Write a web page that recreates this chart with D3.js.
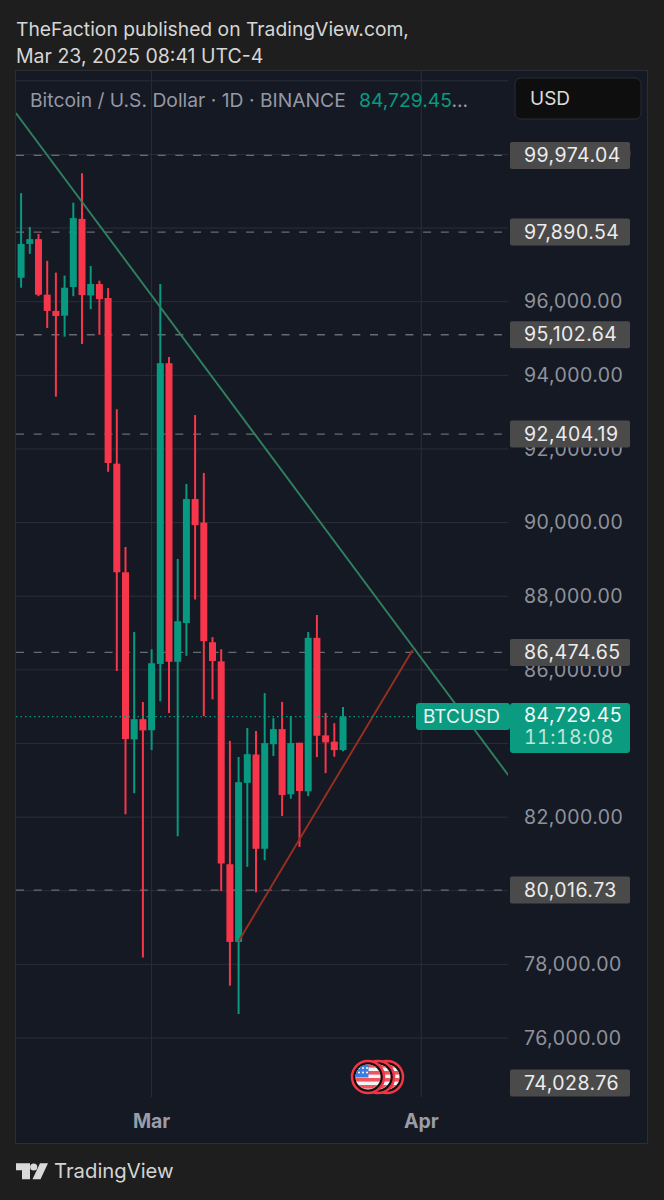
<!DOCTYPE html>
<html>
<head>
<meta charset="utf-8">
<title>BTCUSD daily chart</title>
<script src="https://d3js.org/d3.v7.min.js"></script>
<style>
html,body{margin:0;padding:0;background:#1e1e1e;}
svg{display:block;font-family:Inter,"Noto Sans",sans-serif;}
</style>
</head>
<body>
<div id="chart"></div>
<script>
// daily candles, first one is Feb 14 2025, day 15 is Mar 1
var opens  = [96650,97570,97700,96190,95750,95620,96400,98250,96170,96480,96100,91600,88650,84110,84660,84360,86160,94330,86220,87270,90640,90000,86750,86230,80720,78610,82930,83700,81140,83980,84390,82620,84020,82700,86870,84220,84050,83820];
var highs  = [98950,98030,97840,97110,96790,96710,98690,99490,96970,96570,96370,93080,89340,87030,85130,86560,96480,94500,89010,91050,92920,91350,86890,86560,84070,83630,84420,84340,85370,84690,85130,84750,84020,87030,87490,84830,84550,84990];
var lows   = [96380,97300,96150,95285,93420,95050,96150,94850,95800,95100,91380,85970,82080,82650,78190,83820,85150,84825,81480,86380,87910,84740,85200,79990,77420,76650,80650,79960,80830,83660,82030,82500,81190,82570,83630,83195,83640,83790];
var closes = [97570,97700,96190,95750,95610,96380,98270,96180,96480,96070,91620,88650,84120,84660,84355,86180,94330,86220,87320,90640,89930,86780,86240,80740,78610,82950,83710,81140,84010,84390,82600,84010,82710,86870,84210,84030,83820,84729.45];

var gridPrices = [76000,78000,80000,82000,84000,86000,88000,90000,92000,94000,96000,98000,100000,102000];
// the others sit fully behind the pinned labels
var priceLabels = [76000,78000,82000,86000,88000,90000,92000,94000,96000,100000];
var levels = [99974.04,97890.54,95102.64,92404.19,86474.65,80016.73];
var monthDays = [15,46];
var monthNames = ["Mar","Apr"];
var lastPrice = 84729.45;
var greenLine = [[-0.6,101127],[56,83140]];
var redLine = [[25,78630],[45,86537]];

var w = 664, h = 1200;
var paneL = 16, paneR = 508, paneT = 71, paneB = 1097, frameR = 647, frameB = 1143;
var bodyW = 7, wickW = 2;
var up = "#089981", down = "#f7364b", grid = "#2a2e39";
var numSize = 19.5, numSpace = 0.45;

// calibrated on the gridlines: 96,000 at 301.7 and 76,000 at 1038
var y = d3.scaleLinear().domain([96000,76000]).range([301.7,1038]);
var x = d3.scaleLinear().domain([15,46]).range([151.6,421.3]);

var svg = d3.select("#chart").append("svg").attr("width",w).attr("height",h);

svg.append("rect").attr("width",w).attr("height",h).attr("fill","#1e1e1e");
svg.append("rect")
   .attr("x",paneL-0.5).attr("y",paneT-0.5)
   .attr("width",frameR-paneL+1).attr("height",frameB-paneT+1)
   .attr("fill","#151924").attr("stroke","#2c2e33");

svg.append("clipPath").attr("id","pane").append("rect")
   .attr("x",paneL).attr("y",paneT).attr("width",paneR-paneL).attr("height",paneB-paneT);

var pane = svg.append("g").attr("clip-path","url(#pane)");

// grid
pane.selectAll("line.h").data(gridPrices).enter().append("line").attr("class","h")
    .attr("x1",paneL).attr("x2",paneR)
    .attr("y1",function(d){return y(d);}).attr("y2",function(d){return y(d);})
    .attr("stroke",grid).attr("stroke-width",1);
pane.selectAll("line.v").data(monthDays).enter().append("line").attr("class","v")
    .attr("x1",function(d){return x(d);}).attr("x2",function(d){return x(d);})
    .attr("y1",paneT).attr("y2",paneB)
    .attr("stroke",grid).attr("stroke-width",1);

// dashed levels
pane.selectAll("line.level").data(levels).enter().append("line").attr("class","level")
    .attr("x1",paneL).attr("x2",paneR)
    .attr("y1",function(d){return y(d);}).attr("y2",function(d){return y(d);})
    .attr("stroke","#6a6b70").attr("stroke-width",1.3).attr("stroke-dasharray","8 9.7");

// candles
var days = d3.range(opens.length);
var col = function(i){ return closes[i] >= opens[i] ? up : down; };
pane.selectAll("line.wick").data(days).enter().append("line").attr("class","wick")
    .attr("x1",function(i){return x(i);}).attr("x2",function(i){return x(i);})
    .attr("y1",function(i){return y(highs[i]);}).attr("y2",function(i){return y(lows[i]);})
    .attr("stroke",col).attr("stroke-width",wickW);
pane.selectAll("rect.body").data(days).enter().append("rect").attr("class","body")
    .attr("x",function(i){return x(i)-bodyW/2;})
    .attr("width",bodyW)
    .attr("y",function(i){return y(Math.max(opens[i],closes[i]));})
    .attr("height",function(i){return Math.abs(y(opens[i])-y(closes[i]));})
    .attr("fill",col);

// trend lines
var line = d3.line().x(function(d){return x(d[0]);}).y(function(d){return y(d[1]);});
pane.append("path").attr("d",line(greenLine)).attr("fill","none").attr("stroke","#2f8060").attr("stroke-width",1.9);
pane.append("path").attr("d",line(redLine)).attr("fill","none").attr("stroke","#982f1f").attr("stroke-width",1.9);

// last price dots
pane.append("line")
    .attr("x1",paneL).attr("x2",paneR)
    .attr("y1",y(lastPrice)).attr("y2",y(lastPrice))
    .attr("stroke",up).attr("stroke-width",1.3).attr("stroke-dasharray","1.5 3");

// price axis
var axis = d3.axisRight(y).tickValues(priceLabels).tickSize(0).tickPadding(0).tickFormat(d3.format(",.2f"));
var gAxis = svg.append("g").attr("transform","translate(524,0)").call(axis);
gAxis.select(".domain").remove();
gAxis.selectAll("text").attr("fill","#8f929b").attr("font-size",numSize).attr("letter-spacing",numSpace).attr("font-family","Inter,sans-serif");

// time axis
svg.selectAll("text.month").data(monthDays).enter().append("text").attr("class","month")
   .attr("x",function(d){return x(d);}).attr("y",1128)
   .attr("text-anchor","middle").attr("font-size",19.5).attr("font-weight",700).attr("fill","#9a9da8")
   .text(function(d,i){return monthNames[i];});

// pinned level labels
var fmt = d3.format(",.2f");
var tags = svg.selectAll("g.tag").data(levels.concat([74028.76])).enter().append("g").attr("class","tag")
   .attr("transform",function(d){ return "translate(510,"+ (d < 75000 ? 1083 : y(d)) +")"; });
tags.append("rect").attr("x",0).attr("y",-13.5).attr("width",120).attr("height",27).attr("rx",2).attr("fill","#4a4a4a");
tags.append("text").attr("x",14).attr("y",6.5).attr("font-size",numSize).attr("letter-spacing",numSpace).attr("fill","#ececec").text(function(d){return fmt(d);});

// last price tags
svg.append("rect").attr("x",416).attr("y",703).attr("width",94).attr("height",27).attr("rx",3).attr("fill","#0a9b80");
svg.append("text").attr("x",423).attr("y",723).attr("font-size",19).attr("fill","#e8f5f2").text("BTCUSD");
svg.append("rect").attr("x",510).attr("y",703).attr("width",120).attr("height",50).attr("rx",3).attr("fill","#0a9b80");
svg.append("text").attr("x",524).attr("y",721.5).attr("font-size",numSize).attr("letter-spacing",numSpace).attr("fill","#f0faf7").text(fmt(lastPrice));
svg.append("text").attr("x",524).attr("y",744).attr("font-size",numSize).attr("letter-spacing",numSpace).attr("style","font-variant-numeric:tabular-nums").attr("fill","#bfe6dc").text("11:18:08");

// header
svg.append("text").attr("x",16).attr("y",36).attr("font-size",19.3).attr("fill","#d6d6d6").text("TheFaction published on TradingView.com,");
svg.append("text").attr("x",16).attr("y",63).attr("font-size",19.5).attr("fill","#d6d6d6").text("Mar 23, 2025 08:41 UTC-4");
svg.append("text").attr("x",30).attr("y",107).attr("font-size",19.3).attr("fill","#9598a3").text("Bitcoin / U.S. Dollar · 1D · BINANCE");
var ticker = svg.append("text").attr("x",359).attr("y",107).attr("font-size",19.3).attr("fill","#089981").text("84,729.45");
ticker.append("tspan").attr("fill","#9598a3").text("...");

// currency button
svg.append("rect").attr("x",515).attr("y",78).attr("width",126).attr("height",41).attr("rx",6).attr("fill","#0e0e0f").attr("stroke","#2a2d36");
svg.append("text").attr("x",530).attr("y",105).attr("font-size",19).attr("fill","#dcdcdc").text("USD");

// event flags, back ones first
var defs = svg.append("defs");
defs.append("clipPath").attr("id","flagclip").append("circle").attr("r",12.5);
[387,378,368].forEach(function(cx){
  var g = svg.append("g").attr("transform","translate("+cx+",1077)");
  g.append("circle").attr("r",16).attr("fill","#111").attr("stroke","#f23645").attr("stroke-width",2.5);
  var f = g.append("g").attr("clip-path","url(#flagclip)");
  f.append("rect").attr("x",-13).attr("y",-13).attr("width",26).attr("height",26).attr("fill","#f4f4f4");
  [-13,-6,1,8].forEach(function(sy){
    f.append("rect").attr("x",-13).attr("y",sy).attr("width",26).attr("height",3.6).attr("fill","#f0525e");
  });
  f.append("rect").attr("x",-13).attr("y",-13).attr("width",13.5).attr("height",13.5).attr("fill","#3a7de0");
  [-9,-4.5].forEach(function(sy){
    [-9,-5,-1].forEach(function(sx){
      f.append("circle").attr("cx",sx).attr("cy",sy).attr("r",1).attr("fill","#fff");
    });
  });
});

// footer logo
var logo = svg.append("g").attr("fill","#d9d9d9");
logo.append("path").attr("d","M16 1163.3H30V1179.3H22V1170.3H16Z");
logo.append("circle").attr("cx",33.7).attr("cy",1167).attr("r",3.6);
logo.append("path").attr("d","M40 1163.3H48L40.5 1179.3H32.5Z");
svg.append("text").attr("x",54).attr("y",1178).attr("font-size",20.3).attr("fill","#d4d4d4").text("TradingView");
</script>
</body></html>
